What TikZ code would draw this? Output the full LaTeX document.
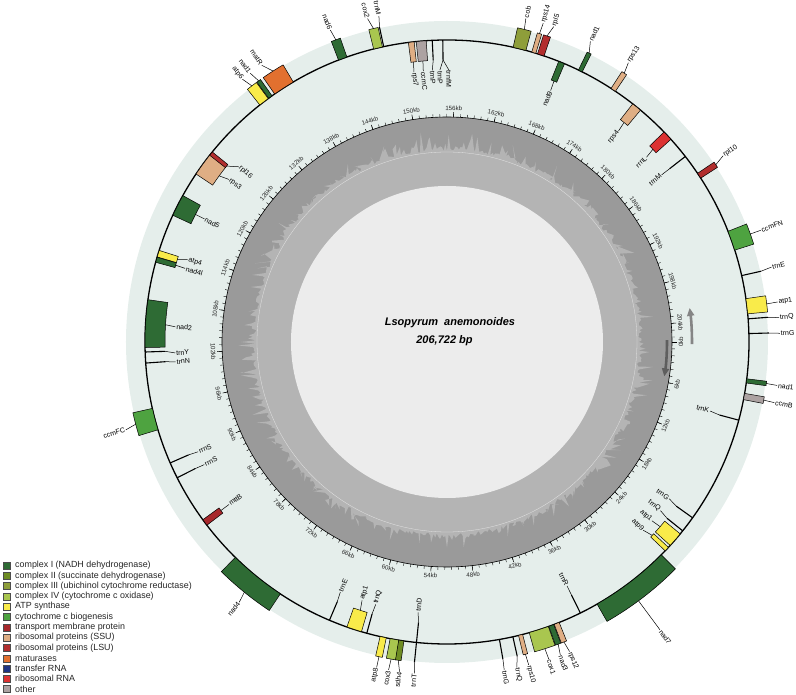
\documentclass[tikz,border=0pt]{standalone}
\usepackage{fontspec}
\setmainfont{Liberation Sans}
\usetikzlibrary{arrows.meta}
\definecolor{bgc}{HTML}{E5EEEB}
\definecolor{gcdark}{HTML}{9A9A9A}
\definecolor{gclight}{HTML}{B4B4B4}
\definecolor{gccen}{HTML}{ECECEC}
\definecolor{cI}{HTML}{2E6B34}
\definecolor{cII}{HTML}{6E8C23}
\definecolor{cIII}{HTML}{8E9E3A}
\definecolor{cIV}{HTML}{A9C64F}
\definecolor{atpc}{HTML}{F9EB4A}
\definecolor{ccm}{HTML}{4EA340}
\definecolor{tmp}{HTML}{A8282C}
\definecolor{ssu}{HTML}{DFAE84}
\definecolor{lsu}{HTML}{B22E2E}
\definecolor{mat}{HTML}{E2702F}
\definecolor{trna}{HTML}{1F3483}
\definecolor{rrna}{HTML}{DC3232}
\definecolor{oth}{HTML}{ACA2A2}
\definecolor{arA}{HTML}{858585}
\definecolor{arB}{HTML}{5E5E5E}
% gene box outside / inside
\newcommand\gout[3]{\draw[gbox,fill=#3] ({#1-#2/2}:302pt) arc[start angle={#1-#2/2},delta angle={#2},radius=302pt] -- ({#1+#2/2}:322pt) arc[start angle={#1+#2/2},delta angle={-#2},radius=322pt] -- cycle;}
\newcommand\gin[3]{\draw[gbox,fill=#3] ({#1-#2/2}:282pt) arc[start angle={#1-#2/2},delta angle={#2},radius=282pt] -- ({#1+#2/2}:302pt) arc[start angle={#1+#2/2},delta angle={-#2},radius=302pt] -- cycle;}
\newcommand\tout[1]{\draw[trl] (#1:302pt) -- (#1:322pt);}
\newcommand\tin[1]{\draw[trl] (#1:302pt) -- (#1:282pt);}
% labels outside / inside: name, box angle, label angle, text
\newcommand\lo[4]{%
  \pgfmathsetmacro\cc{cos(#3)}%
  \ifdim\cc pt>0.02pt
    \node[glab,anchor=west,rotate=#3] (#1) at (#3:333pt) {#4};
    \draw[lead] (#2:322pt) -- (#1.west);
  \else
    \pgfmathsetmacro\rr{#3+180}%
    \node[glab,anchor=east,rotate=\rr] (#1) at (#3:333pt) {#4};
    \draw[lead] (#2:322pt) -- (#1.east);
  \fi}
\newcommand\li[4]{%
  \pgfmathsetmacro\cc{cos(#3)}%
  \ifdim\cc pt>0.02pt
    \node[glab,anchor=east,rotate=#3] (#1) at (#3:272pt) {#4};
    \draw[lead] (#2:282pt) -- (#1.east);
  \else
    \pgfmathsetmacro\rr{#3+180}%
    \node[glab,anchor=west,rotate=\rr] (#1) at (#3:272pt) {#4};
    \draw[lead] (#2:282pt) -- (#1.west);
  \fi}
\begin{document}
\begin{tikzpicture}[x=1pt,y=1pt,
  gbox/.style={draw=black,line width=0.5pt},
  trl/.style={line width=1.1pt,black},
  lead/.style={line width=0.5pt,black},
  glab/.style={font=\fontsize{7}{8}\selectfont,inner sep=0.8pt},
  tlab/.style={font=\fontsize{6.2}{7}\selectfont,inner sep=0.5pt,text=black!85},
  leg/.style={font=\fontsize{8.9}{10}\selectfont,anchor=west,inner sep=0pt,text=black!85},
  legsq/.style={draw=black!70,line width=0.3pt,minimum size=7pt,inner sep=0pt}]
\useasboundingbox (-447,-353) rectangle (349,342);
% background discs
\fill[bgc] (0,0) circle[radius=321pt];
% GC ring
\fill[gcdark] (0,0) circle[radius=225pt];
\pgfmathsetseed{11}
\fill[gclight] plot[domain=0:359.5,samples=720] (\x:{191+5*rnd+16*rnd^6}) -- cycle;
\draw[white!80!gray,line width=0.3pt] (0,0) circle[radius=190pt];
\fill[gccen] (0,0) circle[radius=156pt];
% scale ring
\draw[line width=0.6pt] (0,0) circle[radius=225pt];
\foreach \p in {0,...,206}{\draw[line width=0.4pt] ({-\p*1.741469}:225pt) -- ({-\p*1.741469}:228pt);}
\foreach \p in {0,6,...,204}{%
  \pgfmathsetmacro\th{-\p*1.741469}%
  \draw[line width=0.5pt] (\th:225pt) -- (\th:230pt);
  \ifnum\p<104
    \pgfmathsetmacro\rt{\th+90}%
    \node[tlab,anchor=north,rotate=\rt] (tk\p) at (\th:231pt) {\p kb};
  \else
    \pgfmathsetmacro\rt{\th+270}%
    \node[tlab,anchor=south,rotate=\rt] (tk\p) at (\th:231pt) {\p kb};
  \fi}
% strand arrows
\draw[arA,line width=2.6pt,-{Triangle[length=8pt,width=7pt]}] (-0.5:245pt) arc[start angle=-0.5,end angle=8,radius=245pt];
\draw[arB,line width=2.6pt,-{Triangle[length=8pt,width=7pt]}] (0.5:220pt) arc[start angle=0.5,end angle=-9,radius=220pt];
% center text
\node[font=\bfseries\itshape\fontsize{11}{13}\selectfont] (title) at (3,19) {Lsopyrum\ \ anemonoides};
\node[font=\bfseries\itshape\fontsize{11}{13}\selectfont] (size) at (-2.5,1) {206,722 bp};
% main circle
\draw[line width=1.3pt] (0,0) circle[radius=302pt];
% ---- outside genes ----
\gout{6.8}{2.9}{atpc} \lo{oatp1a}{6.8}{6.9}{atp1}
\tout{4.4} \lo{otrnQa}{4.4}{4.2}{trnQ}
\tout{1.6} \lo{otrnGa}{1.6}{1.5}{trnG}
\tout{12.7} \lo{otrnEa}{12.7}{13}{trnE}
\gout{19.6}{3.8}{ccm} \lo{occmFN}{19.6}{19.6}{ccmFN}
\gout{33.4}{1.1}{lsu} \lo{orpl10}{33.4}{34}{rpl10}
\gout{56.6}{1.0}{ssu} \lo{orps13}{56.6}{57}{rps13}
\gout{63.8}{0.8}{cI} \lo{onad1a}{63.8}{64.5}{nad1}
\gout{71.9}{1.3}{lsu} \lo{orpl5}{71.9}{71.3}{rpl5}
\gout{73.3}{0.8}{ssu} \lo{orps14}{73.3}{73.2}{rps14}
\gout{76.1}{2.5}{cIII} \lo{ocob}{76.1}{76.3}{cob}
\tout{102.1} \lo{otrnM}{102.1}{101.8}{trnM}
\gout{103.2}{1.7}{cIV} \lo{ocox2}{103.2}{103.8}{cox2}
\gout{110.2}{1.7}{cI} \lo{onad6}{110.2}{110.5}{nad6}
\gout{122.7}{4.2}{mat} \lo{omatR}{122.7}{123.8}{matR}
\gout{125.8}{0.8}{cI} \lo{onad1b}{125.8}{126.2}{nad1}
\gout{127.3}{2.0}{atpc} \lo{oatp6}{127.3}{127.9}{atp6}
\gout{194.8}{4.2}{ccm} \lo{occmFC}{194.8}{195.3}{ccmFC}
\gout{231}{11}{cI} \lo{onad4}{231}{231.4}{nad4}
\gout{257.8}{1.2}{atpc} \lo{oatp8}{257.8}{257.8}{atp8}
\gout{260}{1.7}{cIV} \lo{ocox3}{260}{259.9}{cox3}
\gout{261.3}{1.0}{cII} \lo{osdh4}{261.3}{261.8}{sdh4}
\tout{264.2} \lo{otrnT}{264.2}{264.4}{trnT}
\tout{280} \lo{otrnGb}{280}{279.9}{trnG}
\tout{282.6} \lo{otrnQb}{282.6}{282.1}{trnQ}
\gout{284.1}{0.8}{ssu} \lo{orps10}{284.1}{284.2}{rps10}
\gout{287.7}{3.8}{cIV} \lo{ocox1}{287.7}{287.8}{cox1}
\gout{290.2}{1.0}{cI} \lo{onad3}{290.2}{289.9}{nad3}
\gout{291.3}{1.0}{ssu} \lo{orps12}{291.3}{291.6}{rps12}
\gout{307.5}{15.4}{cI}
\node[glab,anchor=west,rotate=-53.5] (onad7) at (-53.5:358pt) {nad7};
\draw[lead] (-53.5:322pt) -- (onad7.west);
\gout{-7.4}{0.8}{cI} \lo{onad1c}{-7.4}{-7.5}{nad1}
\gout{-10.4}{1.2}{oth} \lo{occmB}{-10.4}{-10.5}{ccmB}
% ---- inside genes ----
\tin{-15} \li{itrnK}{-15}{-14.7}{trnK}
\tin{-35.6} \li{itrnGa}{-35.6}{-35.2}{trnG}
\tin{-38.7} \li{itrnQa}{-38.7}{-38.3}{trnQ}
\gin{-40.9}{2.9}{atpc} \li{iatp1a}{-40.9}{-41.1}{atp1}
\gin{-43.3}{0.9}{atpc} \li{iatp9}{-43.3}{-43.8}{atp9}
\tin{37.9} \li{itrnM}{37.9}{37.9}{trnM}
\gin{43.1}{1.9}{rrna} \li{irrnL}{43.1}{42.8}{rrnL}
\gin{51.1}{1.9}{ssu} \li{irps4}{51.1}{50.9}{rps4}
\gin{67.7}{1.2}{cI} \li{inad9}{67.7}{67.6}{nad9}
\tin{90.8} \li{itrnPb}{90.8}{91.5}{trnP} \li{itrnfM}{90.8}{89.6}{trnfM}
\tin{92.8} \li{itrnPa}{92.8}{93.1}{trnP}
\gin{94.9}{1.9}{oth} \li{iccmC}{94.9}{95.0}{ccmC}
\gin{96.8}{1.1}{ssu} \li{irps7}{96.8}{97.0}{rps7}
\gin{143.9}{4.6}{ssu} \li{irps3}{143.9}{143.3}{rps3}
\gin{141.4}{0.8}{lsu} \li{irpl16}{141.4}{139.9}{rpl16}
\gin{153.1}{4.2}{cI} \li{inad5}{153.1}{153.1}{nad5}
\gin{163.0}{1.3}{atpc} \li{iatp4}{163.0}{162.4}{atp4}
\gin{164.2}{1.0}{cI} \li{inad4l}{164.2}{164.3}{nad4l}
\gin{176.5}{9.1}{cI} \li{inad2}{176.5}{176.8}{nad2}
\tin{181.9} \li{itrnY}{181.9}{182.3}{trnY}
\tin{184} \li{itrnN}{184}{184.2}{trnN}
\tin{203.6} \li{irrnSa}{203.6}{203.8}{rrnS}
\tin{206.7} \li{irrnSb}{206.7}{206.8}{rrnS}
\gin{216.7}{1.3}{tmp} \li{imttB}{216.7}{216.7}{mttB}
\tin{247.1} \li{itrnE}{247.1}{246.9}{trnE}
\gin{252.1}{2.9}{atpc} \li{iatp1b}{252.1}{251.8}{atp1}
\tin{254.6} \li{itrnQb}{254.6}{254.8}{trnQ}
\tin{264.2} \li{itrnD}{264.2}{263.9}{trnD}
\tin{296.2} \li{itrnR}{296.2}{296.2}{trnR}
% ---- legend ----
\foreach \c/\t [count=\i from 0] in {cI/complex I (NADH dehydrogenase),cII/complex II (succinate dehydrogenase),cIII/complex III (ubichinol cytochrome reductase),cIV/complex IV (cytochrome c oxidase),atpc/ATP synthase,ccm/cytochrome c biogenesis,tmp/transport membrane protein,ssu/ribosomal proteins (SSU),lsu/ribosomal proteins (LSU),mat/maturases,trna/transfer RNA,rrna/ribosomal RNA,oth/other}{%
  \node[legsq,fill=\c] (lsq\i) at (-440.5,{-223.5-10.3*\i}) {};
  \node[leg] (ltx\i) at (-432,{-223.5-10.3*\i}) {\t};}
\end{tikzpicture}
\end{document}
